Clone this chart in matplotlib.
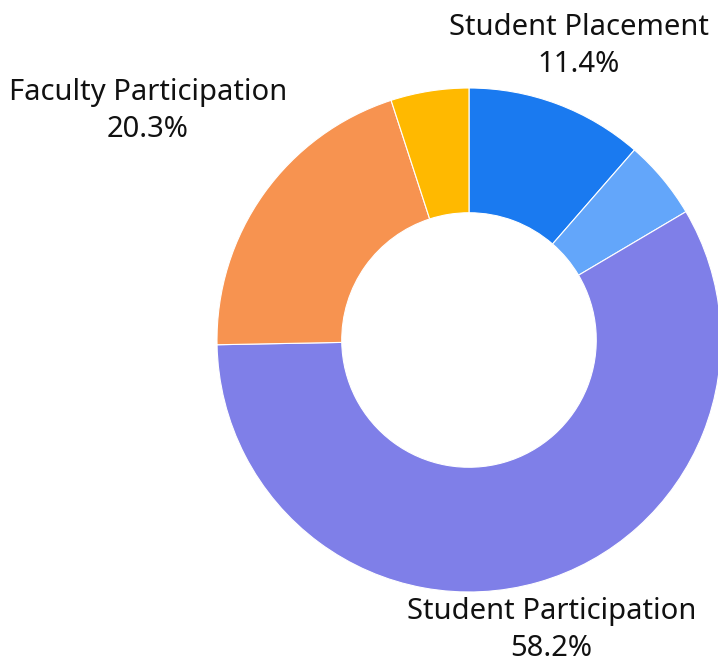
import numpy as np
import matplotlib.pyplot as plt

labels = ['Student Placement', '', 'Student Participation', 'Faculty Participation', '']
values = [11.4, 5.1, 58.2, 20.3, 5.0]
colors = ['#1a7af0', '#63a6fa', '#7f7fe8', '#f79350', '#ffb900']
# how far out each label sits, as a fraction of the outer radius
label_dist = [1.245, 0, 1.195, 1.565, 0]


def main():
    fig = plt.figure(figsize=(7.18, 6.64), dpi=100)
    ax = fig.add_axes([0, 0, 1, 1])

    cx, cy, r = 469, 324, 252
    wedges, _ = ax.pie(values, colors=colors, startangle=90, counterclock=False,
                       center=(cx, cy), radius=r, frame=True,
                       wedgeprops=dict(width=r * 0.495, edgecolor='white', linewidth=0.8))
    ax.set_xlim(0, 718)
    ax.set_ylim(0, 664)
    ax.set_aspect('equal')
    ax.axis('off')

    for w, lab, v, d in zip(wedges, labels, values, label_dist):
        if not lab:
            continue
        mid = np.deg2rad((w.theta1 + w.theta2) / 2)
        x = cx + d * r * np.cos(mid)
        y = cy + d * r * np.sin(mid)
        ax.text(x, y, f'{lab}\n{v}%', ha='center', va='center', fontsize=21,
                family='Noto Sans', linespacing=1.38, color='#111111')

    fig.savefig('out.png', dpi=100)


if __name__ == '__main__':
    main()
